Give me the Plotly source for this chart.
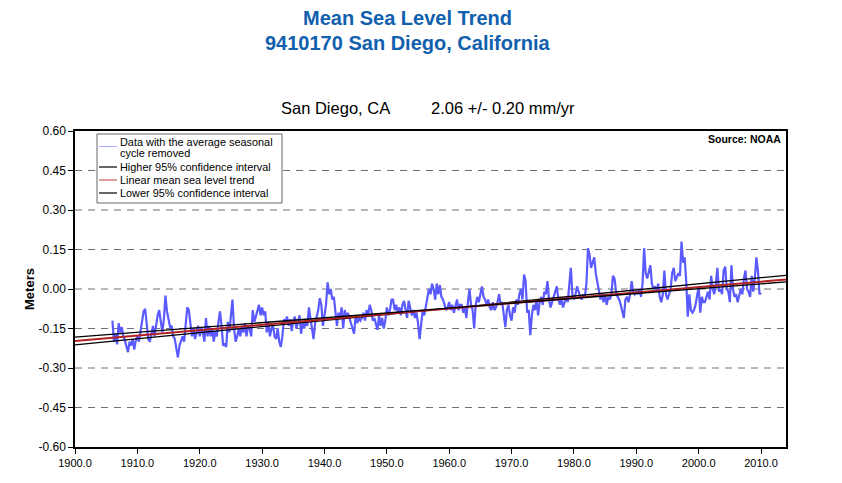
import plotly.graph_objects as go

# monthly-ish mean sea level (quarterly readings), meters
start_year = 1906.0
msl = [
    -0.12, -0.20, -0.17, -0.21,    # 1906
    -0.13, -0.165, -0.145, -0.18,
    -0.195, -0.22, -0.24, -0.20,
    -0.215, -0.19, -0.23, -0.195,
    -0.18, -0.20, -0.16, -0.12,    # 1910
    -0.085, -0.075, -0.14, -0.19,
    -0.20, -0.165, -0.14, -0.18,
    -0.13, -0.10, -0.08, -0.13,
    -0.165, -0.115, -0.025, -0.085,
    -0.12, -0.145, -0.14, -0.18,
    -0.19, -0.235, -0.26, -0.215,
    -0.195, -0.18, -0.20, -0.115,
    -0.07, -0.08, -0.14, -0.18,
    -0.15, -0.19, -0.165, -0.14,
    -0.18, -0.145, -0.165, -0.20,  # 1920
    -0.11, -0.18, -0.14, -0.18,
    -0.15, -0.20, -0.16, -0.18,
    -0.125, -0.085, -0.14, -0.215,
    -0.21, -0.22, -0.125, -0.165,
    -0.10, -0.04, -0.15, -0.20,
    -0.18, -0.15, -0.18, -0.14,
    -0.165, -0.13, -0.18, -0.14,
    -0.15, -0.18, -0.08, -0.125,
    -0.105, -0.085, -0.06, -0.10,
    -0.07, -0.10, -0.085, -0.165,  # 1930
    -0.125, -0.18, -0.15, -0.14,
    -0.18, -0.19, -0.15, -0.20,
    -0.22, -0.18, -0.115, -0.125,
    -0.105, -0.14, -0.115, -0.16,
    -0.12, -0.105, -0.15, -0.125,
    -0.10, -0.17, -0.13, -0.15,
    -0.12, -0.14, -0.07, -0.11,
    -0.15, -0.19, -0.13, -0.10,
    -0.08, -0.035, -0.06, -0.14,
    -0.10, -0.06, 0.025, -0.02,    # 1940
    0.0, -0.04, -0.03, -0.08,
    -0.14, -0.09, -0.11, -0.07,
    -0.15, -0.08, -0.11, -0.09,
    -0.11, -0.13, -0.15, -0.17,
    -0.10, -0.13, -0.11, -0.12,
    -0.11, -0.09, -0.12, -0.08,
    -0.10, -0.06, -0.08, -0.12,
    -0.11, -0.13, -0.155, -0.10,
    -0.14, -0.11, -0.15, -0.12,
    -0.07, -0.10, -0.08, -0.04,    # 1950
    -0.04, -0.08, -0.06, -0.09,
    -0.07, -0.10, -0.06, -0.045,
    -0.08, -0.11, -0.045, -0.07,
    -0.10, -0.08, -0.11, -0.09,
    -0.13, -0.19, -0.12, -0.08,
    -0.10, -0.07, -0.03, 0.0,
    -0.02, 0.02, 0.0, -0.04,
    0.02, -0.02, 0.015, -0.03,
    -0.04, -0.06, -0.08, -0.07,
    -0.05, -0.08, -0.06, -0.09,    # 1960
    -0.07, -0.04, -0.08, -0.06,
    -0.06, -0.09, -0.07, -0.11,
    -0.05, 0.0, -0.06, -0.08,
    -0.15, -0.06, -0.03, -0.05,
    -0.02, 0.01, -0.03, -0.04,
    -0.06, -0.04, -0.07, -0.08,
    -0.05, -0.08, -0.07, -0.05,
    -0.02, -0.06, -0.05, -0.09,
    -0.145, -0.08, -0.06, -0.10,
    -0.12, -0.07, -0.09, -0.04,    # 1970
    -0.06, -0.02, 0.0, -0.04,
    0.055, 0.03, -0.09, -0.08,
    -0.175, -0.10, -0.06, -0.08,
    -0.04, -0.10, -0.05, -0.03,
    -0.06, -0.01, -0.02, 0.03,
    -0.04, -0.07, -0.05, -0.03,
    -0.01, 0.01, -0.04, -0.06,
    -0.04, -0.07, -0.05, -0.03,
    -0.05, 0.03, 0.08, -0.02,
    -0.04, -0.02, 0.01, -0.01,     # 1980
    -0.03, -0.04, -0.02, -0.03,
    0.02, 0.155, 0.13, 0.08,
    0.10, 0.12, 0.06, 0.03,
    -0.01, -0.04, -0.02, -0.05,
    -0.02, -0.06, -0.03, -0.04,
    -0.02, 0.05, 0.04, -0.01,
    -0.03, -0.04, -0.06, -0.08,
    -0.11, -0.04, -0.03, -0.05,
    -0.02, 0.03, -0.01, -0.02,
    -0.01, -0.02, 0.0, -0.03,      # 1990
    0.02, 0.155, 0.06, 0.04,
    0.07, 0.09, 0.02, 0.0,
    0.01, -0.01, 0.02, -0.03,
    -0.05, -0.02, 0.07, -0.02,
    -0.04, -0.02, 0.0, 0.06,
    0.08, 0.03, 0.05, 0.06,
    0.05, 0.18, 0.10, 0.12,
    0.03, -0.105, -0.02, -0.08,
    -0.09, -0.08, -0.06, -0.02,
    0.01, -0.09, -0.03, -0.05,     # 2000
    -0.05, -0.03, -0.01, -0.04,
    0.05, 0.0, -0.02, 0.02,
    0.08, -0.01, 0.0, -0.02,
    0.07, 0.085, 0.0, -0.01,
    -0.05, 0.09, 0.0, -0.03,
    -0.02, -0.05, -0.03, 0.0,
    -0.02, 0.04, 0.07, 0.0,
    -0.01, -0.03, 0.05, -0.01,
    0.04, 0.12, 0.07, -0.02,
    -0.015,                        # 2010
]
years = [start_year + i / 4 for i in range(len(msl))]

# trend + confidence lines, end points
line_x = [1900, 2014]
trend_y = [-0.197, 0.036]
upper_y = [-0.212, 0.052]
lower_y = [-0.183, 0.027]

y_ticks = [-0.60, -0.45, -0.30, -0.15, 0.00, 0.15, 0.30, 0.45, 0.60]
y_labels = ["-0.60", "-0.45", "-0.30", "-0.15", "0.00", "0.15", "0.30", "0.45", "0.60"]
x_ticks = [1900, 1910, 1920, 1930, 1940, 1950, 1960, 1970, 1980, 1990, 2000, 2010]

legend_labels = ["Data with the average seasonal", "cycle removed",
                 "Higher 95% confidence interval",
                 "Linear mean sea level trend",
                 "Lower 95% confidence interval"]
legend_colors = ["#a9b0ff", None, "black", "#d05a5a", "black"]

FONT = "Liberation Sans, Arial, sans-serif"
NARROW = "Liberation Sans Narrow, Liberation Sans, Arial, sans-serif"

# plot area is 711 x 316 px; helpers to place things by pixel
def px_x(p):
    return (p - 75) / 711.0

def px_y(p):
    return (447 - p) / 316.0

fig = go.Figure()
fig.add_trace(go.Scatter(x=years, y=msl, mode="lines", showlegend=False,
                         line=dict(color="#5a5aff", width=2.2)))
fig.add_trace(go.Scatter(x=line_x, y=upper_y, mode="lines", showlegend=False,
                         line=dict(color="black", width=1.3)))
fig.add_trace(go.Scatter(x=line_x, y=trend_y, mode="lines", showlegend=False,
                         line=dict(color="#b22222", width=2)))
fig.add_trace(go.Scatter(x=line_x, y=lower_y, mode="lines", showlegend=False,
                         line=dict(color="black", width=1.3)))

# dashed horizontal grid lines
for v in y_ticks[1:-1]:
    fig.add_shape(type="line", xref="paper", x0=0, x1=1, y0=v, y1=v,
                  line=dict(color="#707070", width=1, dash="7px,6px"), layer="below")

# hand-built legend box (plotly's own is too tall here)
fig.add_shape(type="rect", xref="paper", yref="paper",
              x0=px_x(97), x1=px_x(282), y0=px_y(203), y1=px_y(134),
              line=dict(color="#666", width=1), fillcolor="white")
text_rows = [141.5, 152.5, 167, 180, 193]
line_rows = [146.5, None, 167, 180, 193]
annos = []
for lab, col, ty, ly in zip(legend_labels, legend_colors, text_rows, line_rows):
    if col is not None:
        fig.add_shape(type="line", xref="paper", yref="paper",
                      x0=px_x(99), x1=px_x(117), y0=px_y(ly), y1=px_y(ly),
                      line=dict(color=col, width=1.2))
    annos.append(dict(text=lab, xref="paper", yref="paper", x=px_x(117.5), y=px_y(ty),
                      xanchor="left", yanchor="middle", align="left", showarrow=False,
                      font=dict(size=10.9, family=FONT)))

annos += [
    dict(text="<b>Mean Sea Level Trend</b>", xref="paper", yref="paper",
         x=px_x(407), y=px_y(18), xanchor="center", yanchor="middle", showarrow=False,
         font=dict(size=20, color="#1060ae")),
    dict(text="<b>9410170 San Diego, California</b>", xref="paper", yref="paper",
         x=px_x(407), y=px_y(43), xanchor="center", yanchor="middle", showarrow=False,
         font=dict(size=20, color="#1060ae")),
    dict(text="San Diego, CA", xref="paper", yref="paper", x=px_x(279), y=px_y(108),
         xanchor="left", yanchor="middle", showarrow=False, font=dict(size=16.5)),
    dict(text="2.06 +/- 0.20 mm/yr", xref="paper", yref="paper", x=px_x(429), y=px_y(108),
         xanchor="left", yanchor="middle", showarrow=False, font=dict(size=16.5)),
    dict(text="<b>Source: NOAA</b>", xref="paper", yref="paper", x=px_x(783), y=px_y(131),
         xanchor="right", yanchor="top", showarrow=False, font=dict(size=10.5)),
]

# page has an 8px body margin, so size/margins are trimmed to land the plot at 75..786, 131..447
fig.update_layout(
    width=834, height=475,
    margin=dict(l=67, r=56, t=123, b=36),
    paper_bgcolor="white", plot_bgcolor="white",
    font=dict(family=FONT, color="black"),
    showlegend=False,
    xaxis=dict(range=[1900, 2014], tickvals=x_ticks, tickformat=".1f",
               showgrid=False, zeroline=False, showline=True, linecolor="black",
               linewidth=1.5, mirror=True, ticks="outside", ticklen=5,
               tickcolor="black", tickfont=dict(size=11, family=NARROW)),
    yaxis=dict(range=[-0.6, 0.6], tickvals=y_ticks, ticktext=y_labels,
               showgrid=False, zeroline=False, showline=True, linecolor="black",
               linewidth=1.5, mirror=True, ticks="outside", ticklen=5,
               tickcolor="black", tickfont=dict(size=12, family=NARROW),
               title=dict(text="<b>Meters</b>", font=dict(size=13), standoff=1)),
    annotations=annos,
)

fig.write_html("out.html")
